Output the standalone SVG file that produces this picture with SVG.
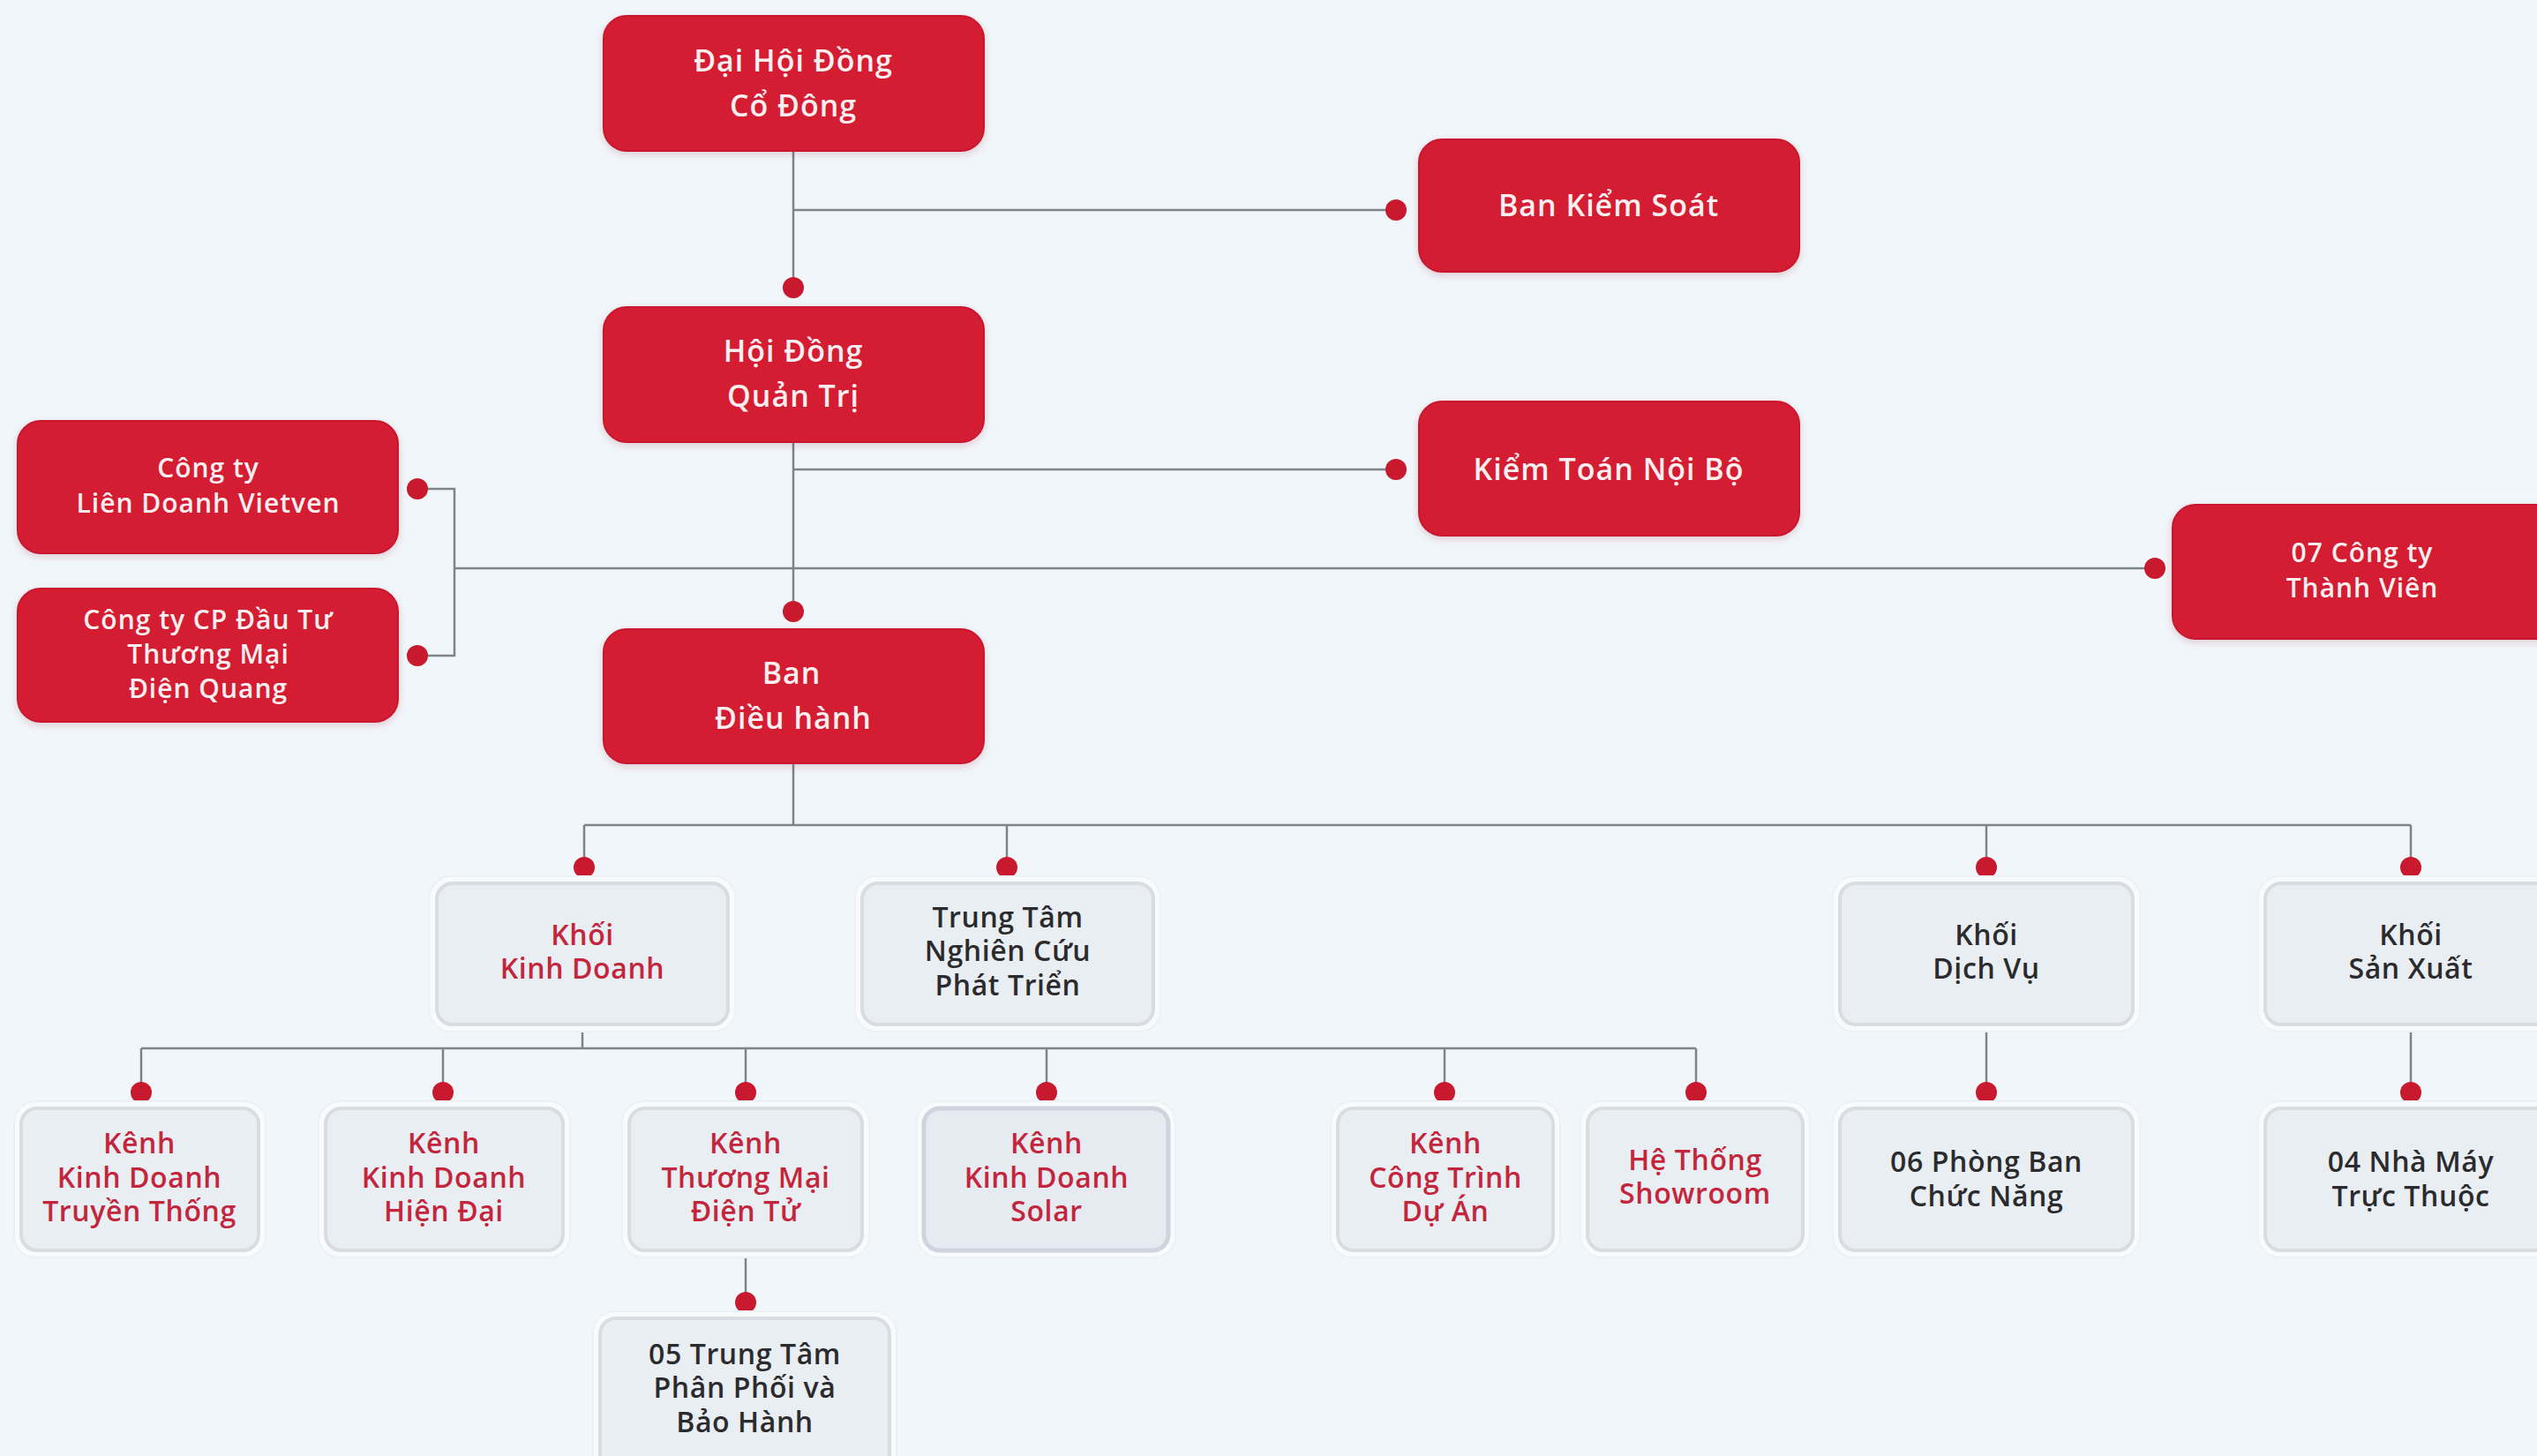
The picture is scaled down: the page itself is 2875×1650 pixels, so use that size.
<svg xmlns="http://www.w3.org/2000/svg" width="2875" height="1650" viewBox="0 0 2875 1650">
<defs>
<style>
.bg{fill:#f1f6fa}
.red{fill:#d41c33;stroke:#c9182e;stroke-width:2}
.halo{fill:#f8fafc;stroke:#eef1f4;stroke-width:2}
.lite{fill:#e9eef3;stroke:#d9dde2;stroke-width:4}
.solar{fill:#e6eaf1;stroke:#cfd4dd;stroke-width:5}
.tw{font-family:"Open Sans","Noto Sans",sans-serif;font-weight:600;fill:#fbeff0;text-anchor:middle;font-size:34px;letter-spacing:1px}
.tws{font-family:"Open Sans","Noto Sans",sans-serif;font-weight:600;fill:#fbeff0;text-anchor:middle;font-size:30px;letter-spacing:1px}
.tr{font-family:"Open Sans","Noto Sans",sans-serif;font-weight:600;fill:#c3263c;text-anchor:middle;font-size:32px;letter-spacing:0.6px}
.td{font-family:"Open Sans","Noto Sans",sans-serif;font-weight:600;fill:#2b2b2e;text-anchor:middle;font-size:32px;letter-spacing:0.6px}
.ln{fill:none;stroke:#7d838b;stroke-width:2.5}
.dot{fill:#c8192f}
</style>
<filter id="sh" x="-10%" y="-10%" width="120%" height="130%">
<feDropShadow dx="0" dy="3" stdDeviation="4" flood-color="#8a1020" flood-opacity="0.18"/>
</filter>
</defs>
<rect class="bg" x="0" y="0" width="2875" height="1650"/>

<g id="connectors">
<path class="ln" d="M899 171 V326 M899 238 H1582 M899 501 V693 M899 532 H1582 M515 644 H2442 M473 554 H515 V743 H473 M899 865 V935 M662 935 H2732 M662 935 V983 M1141 935 V983 M2251 935 V983 M2732 935 V983 M660 1161 V1188 M160 1188 H1922 M160 1188 V1238 M502 1188 V1238 M845 1188 V1238 M1186 1188 V1238 M1637 1188 V1238 M1922 1188 V1238 M2251 1161 V1238 M2732 1161 V1238 M845 1417 V1476"/>
<circle class="dot" cx="1582" cy="238" r="12"/>
<circle class="dot" cx="899" cy="326" r="12"/>
<circle class="dot" cx="1582" cy="532" r="12"/>
<circle class="dot" cx="473" cy="554" r="12"/>
<circle class="dot" cx="473" cy="743" r="12"/>
<circle class="dot" cx="899" cy="693" r="12"/>
<circle class="dot" cx="2442" cy="644" r="12"/>
<circle class="dot" cx="662" cy="983" r="12"/>
<circle class="dot" cx="1141" cy="983" r="12"/>
<circle class="dot" cx="2251" cy="983" r="12"/>
<circle class="dot" cx="2732" cy="983" r="12"/>
<circle class="dot" cx="160" cy="1238" r="12"/>
<circle class="dot" cx="502" cy="1238" r="12"/>
<circle class="dot" cx="845" cy="1238" r="12"/>
<circle class="dot" cx="1186" cy="1238" r="12"/>
<circle class="dot" cx="1637" cy="1238" r="12"/>
<circle class="dot" cx="1922" cy="1238" r="12"/>
<circle class="dot" cx="2251" cy="1238" r="12"/>
<circle class="dot" cx="2732" cy="1238" r="12"/>
<circle class="dot" cx="845" cy="1476" r="12"/>
</g>

<g id="dai-hoi-dong-co-dong">
<rect class="red" filter="url(#sh)" x="684" y="18" width="431" height="153" rx="26"/>
<text class="tw" x="899" y="81">Đại Hội Đồng</text>
<text class="tw" x="899" y="132">Cổ Đông</text>
</g>
<g id="ban-kiem-soat">
<rect class="red" filter="url(#sh)" x="1608" y="158" width="431" height="150" rx="26"/>
<text class="tw" x="1823" y="245">Ban Kiểm Soát</text>
</g>
<g id="hoi-dong-quan-tri">
<rect class="red" filter="url(#sh)" x="684" y="348" width="431" height="153" rx="26"/>
<text class="tw" x="899" y="410">Hội Đồng</text>
<text class="tw" x="899" y="461">Quản Trị</text>
</g>
<g id="kiem-toan-noi-bo">
<rect class="red" filter="url(#sh)" x="1608" y="455" width="431" height="152" rx="26"/>
<text class="tw" x="1823" y="544">Kiểm Toán Nội Bộ</text>
</g>
<g id="vietven">
<rect class="red" filter="url(#sh)" x="20" y="477" width="431" height="150" rx="26"/>
<text class="tws" x="236" y="541">Công ty</text>
<text class="tws" x="236" y="581">Liên Doanh Vietven</text>
</g>
<g id="dien-quang">
<rect class="red" filter="url(#sh)" x="20" y="667" width="431" height="151" rx="26"/>
<text class="tws" x="236" y="713">Công ty CP Đầu Tư</text>
<text class="tws" x="236" y="752">Thương Mại</text>
<text class="tws" x="236" y="791">Điện Quang</text>
</g>
<g id="cong-ty-thanh-vien">
<rect class="red" filter="url(#sh)" x="2462" y="572" width="460" height="152" rx="26"/>
<text class="tws" x="2677" y="637">07 Công ty</text>
<text class="tws" x="2677" y="677">Thành Viên</text>
</g>
<g id="ban-dieu-hanh">
<rect class="red" filter="url(#sh)" x="684" y="713" width="431" height="152" rx="26"/>
<text class="tw" x="897" y="775">Ban</text>
<text class="tw" x="899" y="826">Điều hành</text>
</g>

<g id="khoi-kinh-doanh">
<rect class="halo" x="487" y="993" width="346" height="176" rx="24"/>
<rect class="lite" x="495" y="1001" width="330" height="160" rx="18"/>
<text class="tr" x="660" y="1071">Khối</text>
<text class="tr" x="660" y="1109">Kinh Doanh</text>
</g>
<g id="trung-tam-nghien-cuu">
<rect class="halo" x="969" y="993" width="346" height="176" rx="24"/>
<rect class="lite" x="977" y="1001" width="330" height="160" rx="18"/>
<text class="td" x="1142" y="1051">Trung Tâm</text>
<text class="td" x="1142" y="1089">Nghiên Cứu</text>
<text class="td" x="1142" y="1128">Phát Triển</text>
</g>
<g id="khoi-dich-vu">
<rect class="halo" x="2077" y="993" width="348" height="176" rx="24"/>
<rect class="lite" x="2085" y="1001" width="332" height="160" rx="18"/>
<text class="td" x="2251" y="1071">Khối</text>
<text class="td" x="2251" y="1109">Dịch Vụ</text>
</g>
<g id="khoi-san-xuat">
<rect class="halo" x="2559" y="993" width="346" height="176" rx="24"/>
<rect class="lite" x="2567" y="1001" width="330" height="160" rx="18"/>
<text class="td" x="2732" y="1071">Khối</text>
<text class="td" x="2732" y="1109">Sản Xuất</text>
</g>

<g id="kenh-truyen-thong">
<rect class="halo" x="16" y="1248" width="285" height="177" rx="24"/>
<rect class="lite" x="24" y="1256" width="269" height="161" rx="18"/>
<text class="tr" x="158" y="1307">Kênh</text>
<text class="tr" x="158" y="1346">Kinh Doanh</text>
<text class="tr" x="158" y="1384">Truyền Thống</text>
</g>
<g id="kenh-hien-dai">
<rect class="halo" x="361" y="1248" width="285" height="177" rx="24"/>
<rect class="lite" x="369" y="1256" width="269" height="161" rx="18"/>
<text class="tr" x="503" y="1307">Kênh</text>
<text class="tr" x="503" y="1346">Kinh Doanh</text>
<text class="tr" x="503" y="1384">Hiện Đại</text>
</g>
<g id="kenh-dien-tu">
<rect class="halo" x="705" y="1248" width="280" height="177" rx="24"/>
<rect class="lite" x="713" y="1256" width="264" height="161" rx="18"/>
<text class="tr" x="845" y="1307">Kênh</text>
<text class="tr" x="845" y="1346">Thương Mại</text>
<text class="tr" x="845" y="1384">Điện Tử</text>
</g>
<g id="kenh-solar">
<rect class="halo" x="1039" y="1248" width="293" height="177" rx="24"/>
<rect class="solar" x="1047" y="1256" width="277" height="161" rx="18"/>
<text class="tr" x="1186" y="1307">Kênh</text>
<text class="tr" x="1186" y="1346">Kinh Doanh</text>
<text class="tr" x="1186" y="1384">Solar</text>
</g>
<g id="kenh-cong-trinh">
<rect class="halo" x="1508" y="1248" width="260" height="177" rx="24"/>
<rect class="lite" x="1516" y="1256" width="244" height="161" rx="18"/>
<text class="tr" x="1638" y="1307">Kênh</text>
<text class="tr" x="1638" y="1346">Công Trình</text>
<text class="tr" x="1638" y="1384">Dự Án</text>
</g>
<g id="he-thong-showroom">
<rect class="halo" x="1791" y="1248" width="260" height="177" rx="24"/>
<rect class="lite" x="1799" y="1256" width="244" height="161" rx="18"/>
<text class="tr" x="1921" y="1326">Hệ Thống</text>
<text class="tr" x="1921" y="1364">Showroom</text>
</g>
<g id="phong-ban">
<rect class="halo" x="2077" y="1248" width="348" height="177" rx="24"/>
<rect class="lite" x="2085" y="1256" width="332" height="161" rx="18"/>
<text class="td" x="2251" y="1328">06 Phòng Ban</text>
<text class="td" x="2251" y="1367">Chức Năng</text>
</g>
<g id="nha-may">
<rect class="halo" x="2559" y="1248" width="346" height="177" rx="24"/>
<rect class="lite" x="2567" y="1256" width="330" height="161" rx="18"/>
<text class="td" x="2732" y="1328">04 Nhà Máy</text>
<text class="td" x="2732" y="1367">Trực Thuộc</text>
</g>
<g id="trung-tam-phan-phoi">
<rect class="halo" x="672" y="1486" width="344" height="190" rx="24"/>
<rect class="lite" x="680" y="1494" width="328" height="175" rx="18"/>
<text class="td" x="844" y="1546">05 Trung Tâm</text>
<text class="td" x="844" y="1584">Phân Phối và</text>
<text class="td" x="844" y="1623">Bảo Hành</text>
</g>
</svg>
